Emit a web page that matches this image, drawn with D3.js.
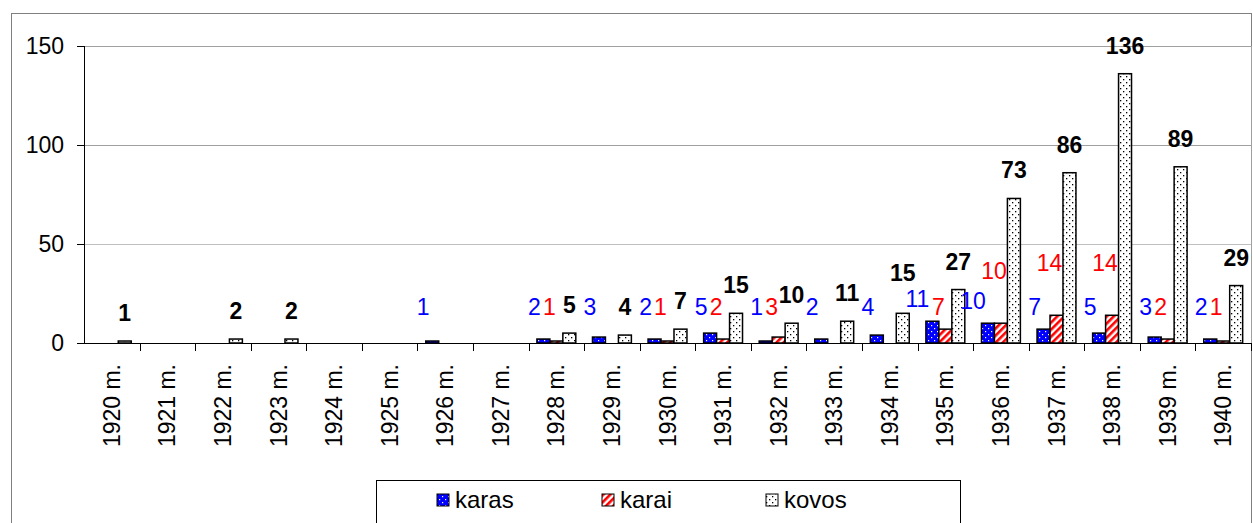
<!DOCTYPE html>
<html><head><meta charset="utf-8">
<script src="https://cdn.jsdelivr.net/npm/d3@7"></script>
<style>
html,body{margin:0;padding:0;background:#fff;}
svg{display:block;font-family:"Liberation Sans",Arial,sans-serif;}
</style></head>
<body>
<svg id="c" width="1253" height="523"></svg>
<script>
const categories = ["1920 m.","1921 m.","1922 m.","1923 m.","1924 m.","1925 m.","1926 m.","1927 m.","1928 m.","1929 m.","1930 m.","1931 m.","1932 m.","1933 m.","1934 m.","1935 m.","1936 m.","1937 m.","1938 m.","1939 m.","1940 m."];
const seriesNames = ["karas","karai","kovos"];
const karas = [null,null,null,null,null,null,1,null,2,3,2,5,1,2,4,11,10,7,5,3,2];
const karai = [null,null,null,null,null,null,null,null,1,null,1,2,3,null,null,7,10,14,14,2,1];
const kovos = [1,null,2,2,null,null,null,null,5,4,7,15,10,11,15,27,73,86,136,89,29];
const yTicks = [0,50,100,150];

const svg = d3.select("#c");
const plot = {left:84, right:1251, top:46, bottom:343};
const FS = 23;

// patterns
const defs = svg.append("defs");
const p1 = defs.append("pattern").attr("id","pKaras").attr("patternUnits","userSpaceOnUse").attr("width",6).attr("height",6);
p1.append("rect").attr("width",6).attr("height",6).attr("fill","#0000ff");
p1.append("rect").attr("x",1).attr("y",1).attr("width",1.2).attr("height",1.2).attr("fill","#fff");
p1.append("rect").attr("x",4).attr("y",4).attr("width",1.2).attr("height",1.2).attr("fill","#fff");
const p2 = defs.append("pattern").attr("id","pKarai").attr("patternUnits","userSpaceOnUse").attr("width",5).attr("height",5).attr("patternTransform","rotate(45)");
p2.append("rect").attr("width",5).attr("height",5).attr("fill","#fff");
p2.append("rect").attr("width",2.6).attr("height",5).attr("fill","#ff0000");
const p3 = defs.append("pattern").attr("id","pKovos").attr("patternUnits","userSpaceOnUse").attr("width",6).attr("height",6);
p3.append("rect").attr("width",6).attr("height",6).attr("fill","#fff");
p3.append("rect").attr("x",1).attr("y",1).attr("width",1.3).attr("height",1.3).attr("fill","#000");
p3.append("rect").attr("x",4).attr("y",4).attr("width",1.3).attr("height",1.3).attr("fill","#000");
const fills = {karas:"url(#pKaras)", karai:"url(#pKarai)", kovos:"url(#pKovos)"};
const labelColor = {karas:"#0000ff", karai:"#ff0000", kovos:"#000"};

// outer border
svg.append("rect").attr("x",11.5).attr("y",13.5).attr("width",1240).attr("height",520)
  .attr("fill","none").attr("stroke","#808080").attr("stroke-width",1);

const x0 = d3.scaleBand().domain(categories).range([plot.left, plot.right]).padding(0);
const bw = x0.bandwidth();
const x1 = d3.scaleBand().domain(seriesNames).range([bw*0.15, bw*0.85]).padding(0);
const y = d3.scaleLinear().domain([0,150]).range([plot.bottom, plot.top]);

// gridlines
svg.append("g").selectAll("line").data(yTicks.filter(t=>t>0)).join("line")
  .attr("x1",plot.left).attr("x2",plot.right)
  .attr("y1",d=>Math.round(y(d))+0.5).attr("y2",d=>Math.round(y(d))+0.5)
  .attr("stroke",d=>d===50?"#c0c0c0":"#a0a0a0").attr("stroke-width",1);
svg.append("line").attr("x1",plot.right+0.5).attr("x2",plot.right+0.5).attr("y1",plot.top).attr("y2",plot.bottom).attr("stroke","#a0a0a0");

// bars
const seriesData = {karas, karai, kovos};
const rows = [];
seriesNames.forEach(s=>{
  seriesData[s].forEach((v,i)=>{ if(v!==null) rows.push({s, cat:categories[i], v}); });
});
svg.append("g").selectAll("rect").data(rows).join("rect")
  .attr("x",d=>x0(d.cat)+x1(d.s))
  .attr("y",d=>y(d.v))
  .attr("width",x1.bandwidth())
  .attr("height",d=>y(0)-y(d.v))
  .attr("fill",d=>fills[d.s])
  .attr("stroke","#000").attr("stroke-width",1.5);

// labels
function labelX(d){
  const c = x0(d.cat)+x1(d.s)+x1.bandwidth()/2;
  if(d.s==="kovos") return c;
  if(d.s==="karai") return c-7;
  return c - 9 - (d.v>=10 ? 6 : 0);
}
function labelY(d){
  if(d.s==="kovos") return y(d.v)-20;
  const base = Math.min(y(d.v)-14, y(0)-28);
  if(d.s==="karai" && d.v>=10) return base-30;
  return base;
}
const labels = svg.append("g").selectAll("text").data(rows).join("text")
  .attr("x",labelX)
  .attr("y",labelY)
  .attr("text-anchor","middle")
  .attr("font-size",FS)
  .attr("font-weight",d=>d.s==="kovos"?"bold":"normal")
  .attr("fill",d=>labelColor[d.s])
  .text(d=>d.v);
// simple collision avoidance: later labels (series order) move up
const placed = [];
labels.each(function(d){
  const el = d3.select(this);
  let b = this.getBBox();
  let guard = 0;
  const hit = bb => placed.some(p => bb.x < p.x+p.width && bb.x+bb.width > p.x && bb.y < p.y+p.height-4 && bb.y+bb.height-4 > p.y);
  while(hit(b) && guard < 20){
    el.attr("y", +el.attr("y") - 4);
    b = this.getBBox();
    guard++;
  }
  placed.push(b);
});

// y axis
const yAxis = svg.append("g");
yAxis.append("line").attr("x1",plot.left+0.5).attr("x2",plot.left+0.5).attr("y1",plot.top).attr("y2",plot.bottom).attr("stroke","#000");
yAxis.selectAll("line.t").data(yTicks).join("line").attr("class","t")
  .attr("x1",plot.left-7).attr("x2",plot.left).attr("y1",d=>Math.round(y(d))+0.5).attr("y2",d=>Math.round(y(d))+0.5).attr("stroke","#000");
yAxis.selectAll("text").data(yTicks).join("text")
  .attr("x",plot.left-20).attr("y",d=>y(d)+8)
  .attr("text-anchor","end").attr("font-size",FS).attr("fill","#000").text(d=>d);

// x axis
const xAxis = svg.append("g");
xAxis.append("line").attr("x1",plot.left).attr("x2",plot.right).attr("y1",plot.bottom+0.5).attr("y2",plot.bottom+0.5).attr("stroke","#000").attr("stroke-width",1.2);
xAxis.selectAll("line.t").data(categories).join("line").attr("class","t")
  .attr("x1",(d,i)=>Math.round(plot.left+bw*(i+1))+0.5).attr("x2",(d,i)=>Math.round(plot.left+bw*(i+1))+0.5)
  .attr("y1",plot.bottom).attr("y2",plot.bottom+8).attr("stroke","#000");
xAxis.selectAll("text").data(categories).join("text")
  .attr("transform",d=>`translate(${x0(d)+bw/2+8},364) rotate(-90)`)
  .attr("text-anchor","end").attr("font-size",FS).attr("fill","#000").text(d=>d);

// legend
const lg = svg.append("g");
lg.append("rect").attr("x",376.5).attr("y",480.5).attr("width",584).attr("height",60)
  .attr("fill","#fff").attr("stroke","#000");
const legX = [437, 602, 766];
seriesNames.forEach((s,i)=>{
  lg.append("rect").attr("x",legX[i]).attr("y",494).attr("width",12).attr("height",12)
    .attr("fill",fills[s]).attr("stroke","#000").attr("stroke-width",1);
  lg.append("text").attr("x",legX[i]+18).attr("y",508).attr("font-size",24).attr("fill","#000").text(s);
});
</script>
</body></html>
